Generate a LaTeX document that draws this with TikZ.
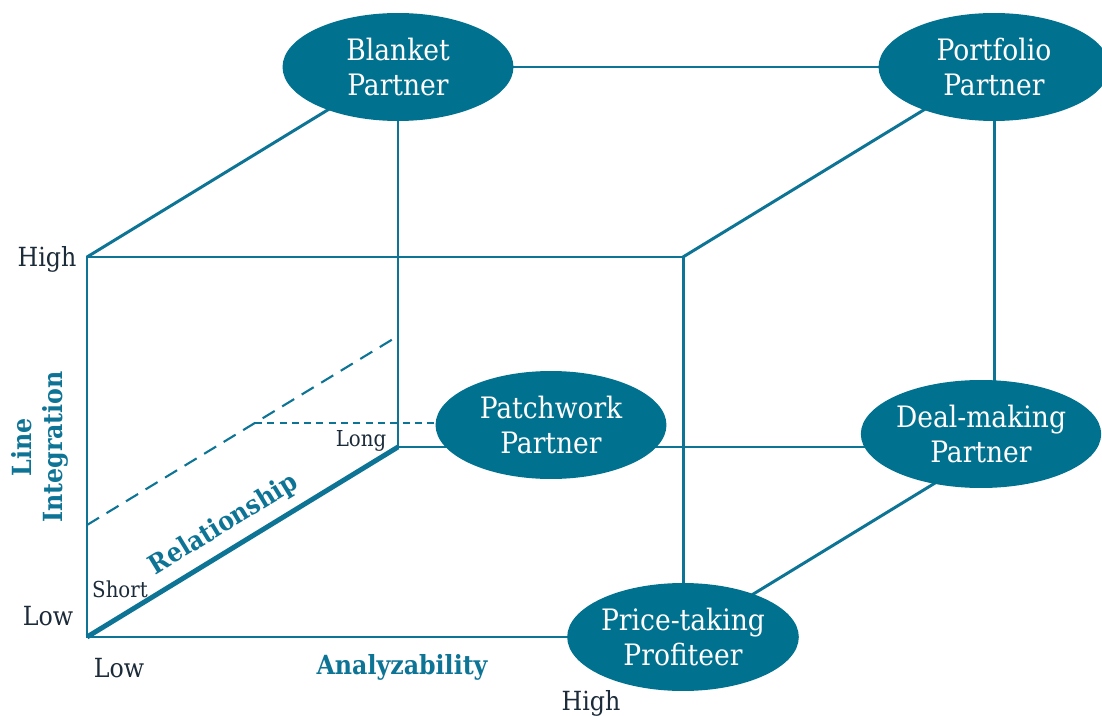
\documentclass[tikz,border=0pt]{standalone}
\usepackage{fontspec}
\setmainfont{DejaVu Serif Condensed}
\usetikzlibrary{positioning,calc,shapes.geometric}
\definecolor{CubeTeal}{HTML}{0E7496}
\definecolor{NodeTeal}{HTML}{00718F}
\definecolor{AxisInk}{HTML}{1C2B39}

\begin{document}
\begin{tikzpicture}[
  x=0.02cm, y=-0.02cm,
  part/.style={ellipse, fill=NodeTeal, text=white, inner sep=0pt,
               minimum width=4.62cm, minimum height=2.16cm, align=center,
               font=\fontsize{16.8}{19.5}\selectfont},
  edge/.style={draw=CubeTeal, line width=1.7pt},
  guide/.style={draw=CubeTeal, line width=1.2pt, dash pattern=on 8pt off 5pt},
  tick/.style={text=AxisInk, font=\fontsize{15}{17}\selectfont},
  smalltick/.style={text=AxisInk, font=\fontsize{12.5}{14}\selectfont},
  axis/.style={text=CubeTeal, font=\bfseries\fontsize{15}{17.5}\selectfont}
]
\useasboundingbox (0,0) rectangle (1102,716);

% cube corners
\coordinate (o)    at (87,637);
\coordinate (ftl)  at (87,257);
\coordinate (ftr)  at (683,257);
\coordinate (fbr)  at (683,637);
\coordinate (long) at (398,447);
\coordinate (btl)  at (398,67);
\coordinate (btr)  at (994,67);
\coordinate (bbr)  at (994,447);

% front face and back face
\draw[edge] (o) -- (ftl) -- (ftr) -- (fbr) -- cycle;
\draw[edge] (long) -- (btl) -- (btr) -- (bbr) -- cycle;
% depth edges
\draw[edge] (ftl) -- (btl);
\draw[edge] (ftr) -- (btr);
\draw[edge] (fbr) -- (bbr);
\draw[edge, line width=2.8pt] (o) -- (long);

% ellipses sit on top of the edges
\node[part] (blanket)   at (btl)      {Blanket\\Partner};
\node[part] (portfolio) at (btr)      {Portfolio\\Partner};
\node[part] (patchwork) at (551,425)  {Patchwork\\Partner};
\node[part] (dealmaker) at (981,434)  {Deal-making\\Partner};
\node[part] (pricetake) at (fbr)      {Price-taking\\Profiteer};

% dashed plane
\coordinate (dashA) at (87,525);
\coordinate (dashB) at (398,336);
\coordinate (dashM) at ($(dashA)!0.54!(dashB)$);
\draw[guide] (dashA) -- (dashB);
\draw[guide, dash pattern=on 4pt off 3pt] (dashM) -- (dashM -| patchwork.west);

% axis labels
\node[tick] (hiY)  at (47,259)  {High};
\node[tick] (loY)  at (48,616)  {Low};
\node[tick] (loX)  at (119,668) {Low};
\node[tick] (hiX)  at (591,703) {High};
\node[smalltick] (short) at (120,589) {Short};
\node[smalltick] (longl) at (361,441) {Long};
\node[axis] (analyz) at (402,667) {Analyzability};
\node[axis, rotate=90, align=center] (lineint) at (40,447) {Line\\Integration};
\node[axis, rotate=31.4] (relation) at (224,525) {Relationship};
\end{tikzpicture}
\end{document}
